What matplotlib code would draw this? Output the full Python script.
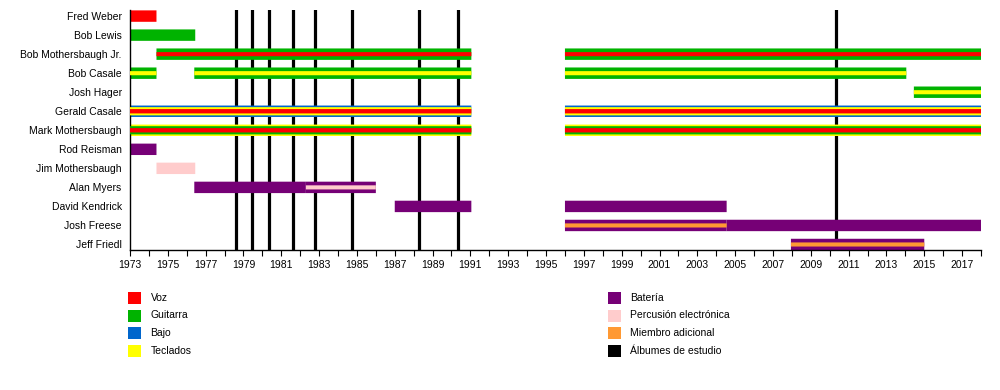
import matplotlib
matplotlib.use("Agg")
import matplotlib.pyplot as plt
from matplotlib.patches import Rectangle
from matplotlib.ticker import MultipleLocator

plt.rcParams['font.family'] = ['Liberation Sans Narrow', 'Liberation Sans', 'DejaVu Sans']

# ---------------- data ----------------
members = ["Fred Weber", "Bob Lewis", "Bob Mothersbaugh Jr.", "Bob Casale", "Josh Hager",
           "Gerald Casale", "Mark Mothersbaugh", "Rod Reisman", "Jim Mothersbaugh",
           "Alan Myers", "David Kendrick", "Josh Freese", "Jeff Friedl"]

role_names = ["Voz", "Guitarra", "Bajo", "Teclados",
              "Batería", "Percusión electrónica", "Miembro adicional", "Álbumes de estudio"]
role_colors = ["#FF0000", "#00B300", "#0066CC", "#FFFF00",
               "#760076", "#FFCCCC", "#FF9933", "#000000"]

# segments: member, start, end, layer roles (outer -> inner)
seg_member = ["Fred Weber", "Bob Lewis",
              "Bob Mothersbaugh Jr.", "Bob Mothersbaugh Jr.",
              "Bob Casale", "Bob Casale", "Bob Casale",
              "Josh Hager",
              "Gerald Casale", "Gerald Casale",
              "Mark Mothersbaugh", "Mark Mothersbaugh",
              "Rod Reisman", "Jim Mothersbaugh",
              "Alan Myers", "Alan Myers",
              "David Kendrick", "David Kendrick",
              "Josh Freese", "Josh Freese",
              "Jeff Friedl"]
seg_start = [1973, 1973,
             1974.4, 1996,
             1973, 1976.4, 1996,
             2014.45,
             1973, 1996,
             1973, 1996,
             1973, 1974.4,
             1976.4, 1982.3,
             1987, 1996,
             1996, 2004.55,
             2007.95]
seg_end = [1974.4, 1976.45,
           1991.05, 2018,
           1974.4, 1991.05, 2014.05,
           2018,
           1991.05, 2018,
           1991.05, 2018,
           1974.4, 1976.45,
           1982.3, 1986.0,
           1991.05, 2004.55,
           2004.55, 2018,
           2015.0]
seg_roles = [["Voz"], ["Guitarra"],
             ["Guitarra", "Voz"], ["Guitarra", "Voz"],
             ["Guitarra", "Teclados"], ["Guitarra", "Teclados"], ["Guitarra", "Teclados"],
             ["Guitarra", "Teclados"],
             ["Bajo", "Teclados", "Voz"], ["Bajo", "Teclados", "Voz"],
             ["Teclados", "Guitarra", "Voz"], ["Teclados", "Guitarra", "Voz"],
             ["Batería"], ["Percusión electrónica"],
             ["Batería"], ["Batería", "Percusión electrónica"],
             ["Batería"], ["Batería"],
             ["Batería", "Miembro adicional"], ["Batería"],
             ["Batería", "Miembro adicional"]]

albums = [1978.6, 1979.45, 1980.35, 1981.62, 1982.78, 1984.74, 1988.27, 1990.33, 2010.35]

# ---------------- drawing ----------------
color_of = dict(zip(role_names, role_colors))
ypos = {m: i for i, m in enumerate(members)}

fig = plt.figure(figsize=(10, 3.9), dpi=100)
ax = fig.add_axes([0.13, 1 - 250 / 390, 0.981 - 0.13, (250 - 10) / 390])

for a in albums:
    ax.axvline(a, color=color_of["Álbumes de estudio"], lw=2.3, zorder=1)

full_h = 0.6
heights = {1: [1.0], 2: [1.0, 0.36], 3: [1.0, 0.72, 0.38]}
for m, s, e, roles in zip(seg_member, seg_start, seg_end, seg_roles):
    hs = heights[len(roles)]
    for k, r in enumerate(roles):
        bars = ax.barh(ypos[m], e - s, left=s, height=full_h * hs[k], color=color_of[r],
                       linewidth=0, zorder=2 + k)
        for b in bars:
            b.set_snap(False)

ax.set_xlim(1973, 2018)
ax.set_ylim(12.29, -0.32)
ax.set_yticks(range(len(members)))
ax.set_yticklabels(members, fontsize=7.5)
ax.tick_params(axis='y', length=0, pad=6)
ax.xaxis.set_major_locator(MultipleLocator(2))
ax.xaxis.set_minor_locator(MultipleLocator(1))
ax.set_xticks(range(1973, 2018, 2))
ax.tick_params(axis='x', which='both', length=4, width=0.8, direction='out', labelsize=7.5, pad=3)
for sp in ["top", "right"]:
    ax.spines[sp].set_visible(False)
for sp in ["left", "bottom"]:
    ax.spines[sp].set_linewidth(1.0)

# legend
col_x = [128, 608]
row_y = [298, 315.5, 333, 350.5]
for i, (name, col) in enumerate(zip(role_names, role_colors)):
    cx = col_x[i // 4]
    cy = row_y[i % 4]
    fig.patches.append(Rectangle(((cx) / 1000, 1 - (cy + 6) / 390), 12.5 / 1000, 12 / 390,
                                 transform=fig.transFigure, color=col, linewidth=0))
    fig.text((cx + 22.5) / 1000, 1 - cy / 390, name, fontsize=7.5, va='center', ha='left')

fig.savefig("out.png", dpi=100)
